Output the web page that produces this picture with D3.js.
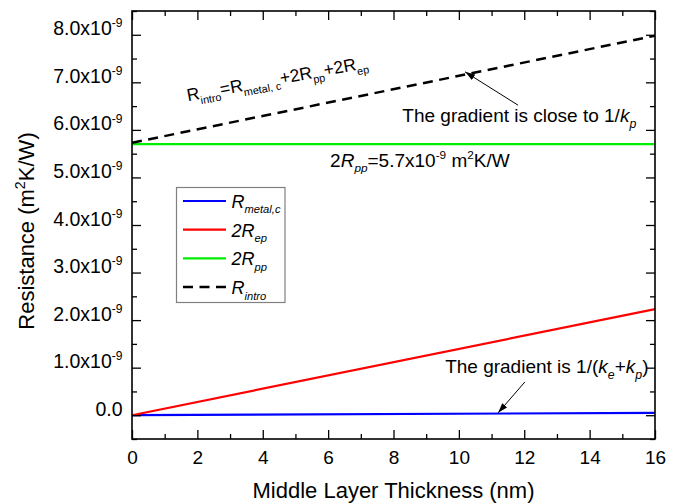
<!DOCTYPE html>
<html>
<head>
<meta charset="utf-8">
<script src="https://cdn.jsdelivr.net/npm/d3@7"></script>
<style>
  body { margin: 0; background: #fff; }
  svg text { font-family: "Liberation Sans", Arial, sans-serif; white-space: pre; }
</style>
</head>
<body>
<div id="chart"></div>
<script>
// values in units of 1e-9 m2K/W, thickness in nm
const thickness = [0, 16];
const rMetalC = [0.0, 0.05];
const twoREp = [0.0, 2.23];
const twoRPp = [5.7, 5.7];
const rIntro = [5.73, 7.98];

const xTicks = [0, 2, 4, 6, 8, 10, 12, 14, 16];
const xMinor = [1, 3, 5, 7, 9, 11, 13, 15];
const yTicks = [0, 1, 2, 3, 4, 5, 6, 7, 8];
const yMinor = [-0.5, 0.5, 1.5, 2.5, 3.5, 4.5, 5.5, 6.5, 7.5, 8.5];

const series = [
  { values: rMetalC, color: "#0000ff", dash: null, label: [{ t: "R", it: 1 }, { t: "metal,c", sub: 1, it: 1 }] },
  { values: twoREp, color: "#ff0000", dash: null, label: [{ t: "2R", it: 1 }, { t: "ep", sub: 1, it: 1 }] },
  { values: twoRPp, color: "#00ee00", dash: null, label: [{ t: "2R", it: 1 }, { t: "pp", sub: 1, it: 1 }] },
  { values: rIntro, color: "#000000", dash: "10,6.5", label: [{ t: "R", it: 1 }, { t: "intro", sub: 1, it: 1 }] }
];

const W = 685, H = 504;
const margin = { top: 11, right: 30, bottom: 65, left: 132 };
const width = W - margin.left - margin.right;
const height = H - margin.top - margin.bottom;

const svg = d3.select("#chart").append("svg")
  .attr("width", W).attr("height", H);

svg.append("defs").append("marker")
  .attr("id", "arrow")
  .attr("viewBox", "0 0 10 8")
  .attr("refX", 10).attr("refY", 4)
  .attr("markerWidth", 10).attr("markerHeight", 8)
  .attr("markerUnits", "userSpaceOnUse")
  .attr("orient", "auto")
  .append("path").attr("d", "M0,0.8 L10,4 L0,7.2 Z").attr("fill", "#000");

const g = svg.append("g").attr("transform", `translate(${margin.left},${margin.top})`);

const x = d3.scaleLinear().domain([0, 16]).range([0, width]);
const y = d3.scaleLinear().domain([-0.5, 8.5]).range([height, 0]);

// writes text made of normal / sub / sup pieces
function rich(sel, parts, size, ratio = 0.65) {
  const subShift = size * 0.3, supShift = size * 0.4;
  let off = 0;
  parts.forEach(p => {
    const target = p.sub ? subShift : p.sup ? -supShift : 0;
    sel.append("tspan")
      .attr("dy", target - off)
      .attr("font-size", (p.sub || p.sup) ? size * ratio : size)
      .attr("font-style", p.it ? "italic" : "normal")
      .text(p.t);
    off = target;
  });
  return sel;
}

// lines
const line = d3.line().x((d, i) => x(thickness[i])).y(d => y(d));
series.forEach(s => {
  g.append("path")
    .datum(s.values)
    .attr("d", line)
    .attr("fill", "none")
    .attr("stroke", s.color)
    .attr("stroke-width", s.dash ? 2.5 : 2.2)
    .attr("stroke-dasharray", s.dash);
});

// axes, ticks pointing inward on all sides
function styleAxis(a) {
  a.select(".domain").remove();
  a.selectAll("line").attr("stroke", "#000").attr("stroke-width", 1.3);
}
const xAx = g.append("g").attr("transform", `translate(0,${height})`)
  .call(d3.axisBottom(x).tickValues(xTicks).tickSize(-9).tickSizeOuter(0).tickPadding(11.5))
  .call(styleAxis);
xAx.selectAll("text").attr("font-size", 19).attr("fill", "#000");
g.append("g").attr("transform", `translate(0,${height})`)
  .call(d3.axisBottom(x).tickValues(xMinor).tickSize(-5).tickFormat("")).call(styleAxis);
g.append("g").call(d3.axisTop(x).tickValues(xTicks).tickSize(-9).tickFormat("")).call(styleAxis);
g.append("g").call(d3.axisTop(x).tickValues(xMinor).tickSize(-5).tickFormat("")).call(styleAxis);

const yAx = g.append("g")
  .call(d3.axisLeft(y).tickValues(yTicks).tickSize(-9).tickSizeOuter(0).tickPadding(9.5))
  .call(styleAxis);
yAx.selectAll("text").attr("fill", "#000").attr("dy", "0.36em").each(function (d) {
  const t = d3.select(this).text(null);
  if (d === 0) rich(t, [{ t: "0.0" }], 19.5);
  else rich(t, [{ t: d.toFixed(1) + "x10" }, { t: "-9", sup: 1 }], 19.5, 0.62);
});
g.append("g").call(d3.axisLeft(y).tickValues(yMinor).tickSize(-5).tickFormat("")).call(styleAxis);
g.append("g").attr("transform", `translate(${width},0)`)
  .call(d3.axisRight(y).tickValues(yTicks).tickSize(-9).tickFormat("")).call(styleAxis);
g.append("g").attr("transform", `translate(${width},0)`)
  .call(d3.axisRight(y).tickValues(yMinor).tickSize(-5).tickFormat("")).call(styleAxis);

// frame
g.append("rect").attr("width", width).attr("height", height)
  .attr("fill", "none").attr("stroke", "#000").attr("stroke-width", 1.6);

// axis titles
svg.append("text")
  .attr("x", margin.left + width / 2).attr("y", 498)
  .attr("text-anchor", "middle").attr("font-size", 22)
  .text("Middle Layer Thickness (nm)");
rich(svg.append("text")
  .attr("transform", "translate(34,231) rotate(-90)")
  .attr("text-anchor", "middle"),
  [{ t: "Resistance (m" }, { t: "2", sup: 1 }, { t: "K/W)" }], 22);

// annotations
rich(g.append("text")
  .attr("transform", `translate(${x(1.71)},${y(6.6)}) rotate(-10.5)`),
  [{ t: "R" }, { t: "intro", sub: 1 }, { t: "=R" }, { t: "metal, c", sub: 1 },
   { t: "+2R" }, { t: "pp", sub: 1 }, { t: "+2R" }, { t: "ep", sub: 1 }], 17.5, 0.62);

rich(g.append("text").attr("x", x(8.27)).attr("y", y(6.17)),
  [{ t: "The gradient is close to 1/" }, { t: "k", it: 1 }, { t: "p", sub: 1, it: 1 }], 19);

rich(g.append("text").attr("x", x(6.06)).attr("y", y(5.225)),
  [{ t: "2" }, { t: "R", it: 1 }, { t: "pp", sub: 1, it: 1 }, { t: "=5.7x10" }, { t: "-9", sup: 1 },
   { t: " m" }, { t: "2", sup: 1 }, { t: "K/W" }], 19, 0.62);

rich(g.append("text").attr("x", x(9.58)).attr("y", y(0.88)),
  [{ t: "The gradient is 1/(" }, { t: "k", it: 1 }, { t: "e", sub: 1, it: 1 }, { t: "+" },
   { t: "k", it: 1 }, { t: "p", sub: 1, it: 1 }, { t: ")" }], 19);

const arrows = [
  { from: [11.81, 6.52], to: [10.19, 7.22] },
  { from: [12.02, 0.70], to: [11.2, 0.05] }
];
arrows.forEach(a => {
  g.append("line")
    .attr("x1", x(a.from[0])).attr("y1", y(a.from[1]))
    .attr("x2", x(a.to[0])).attr("y2", y(a.to[1]))
    .attr("stroke", "#000").attr("stroke-width", 1)
    .attr("marker-end", "url(#arrow)");
});

// legend
const legend = svg.append("g").attr("transform", "translate(176.5,187.5)");
legend.append("rect").attr("width", 108.5).attr("height", 115)
  .attr("fill", "#fff").attr("stroke", "#808080").attr("stroke-width", 1.2);
series.forEach((s, i) => {
  const ly = 13.5 + i * 28.7;
  legend.append("line")
    .attr("x1", 6.5).attr("x2", 49.5).attr("y1", ly).attr("y2", ly)
    .attr("stroke", s.color).attr("stroke-width", s.dash ? 2.5 : 2.2)
    .attr("stroke-dasharray", s.dash);
  rich(legend.append("text").attr("x", 55).attr("y", ly + 7), s.label, 18, 0.62);
});
</script>
</body>
</html>
